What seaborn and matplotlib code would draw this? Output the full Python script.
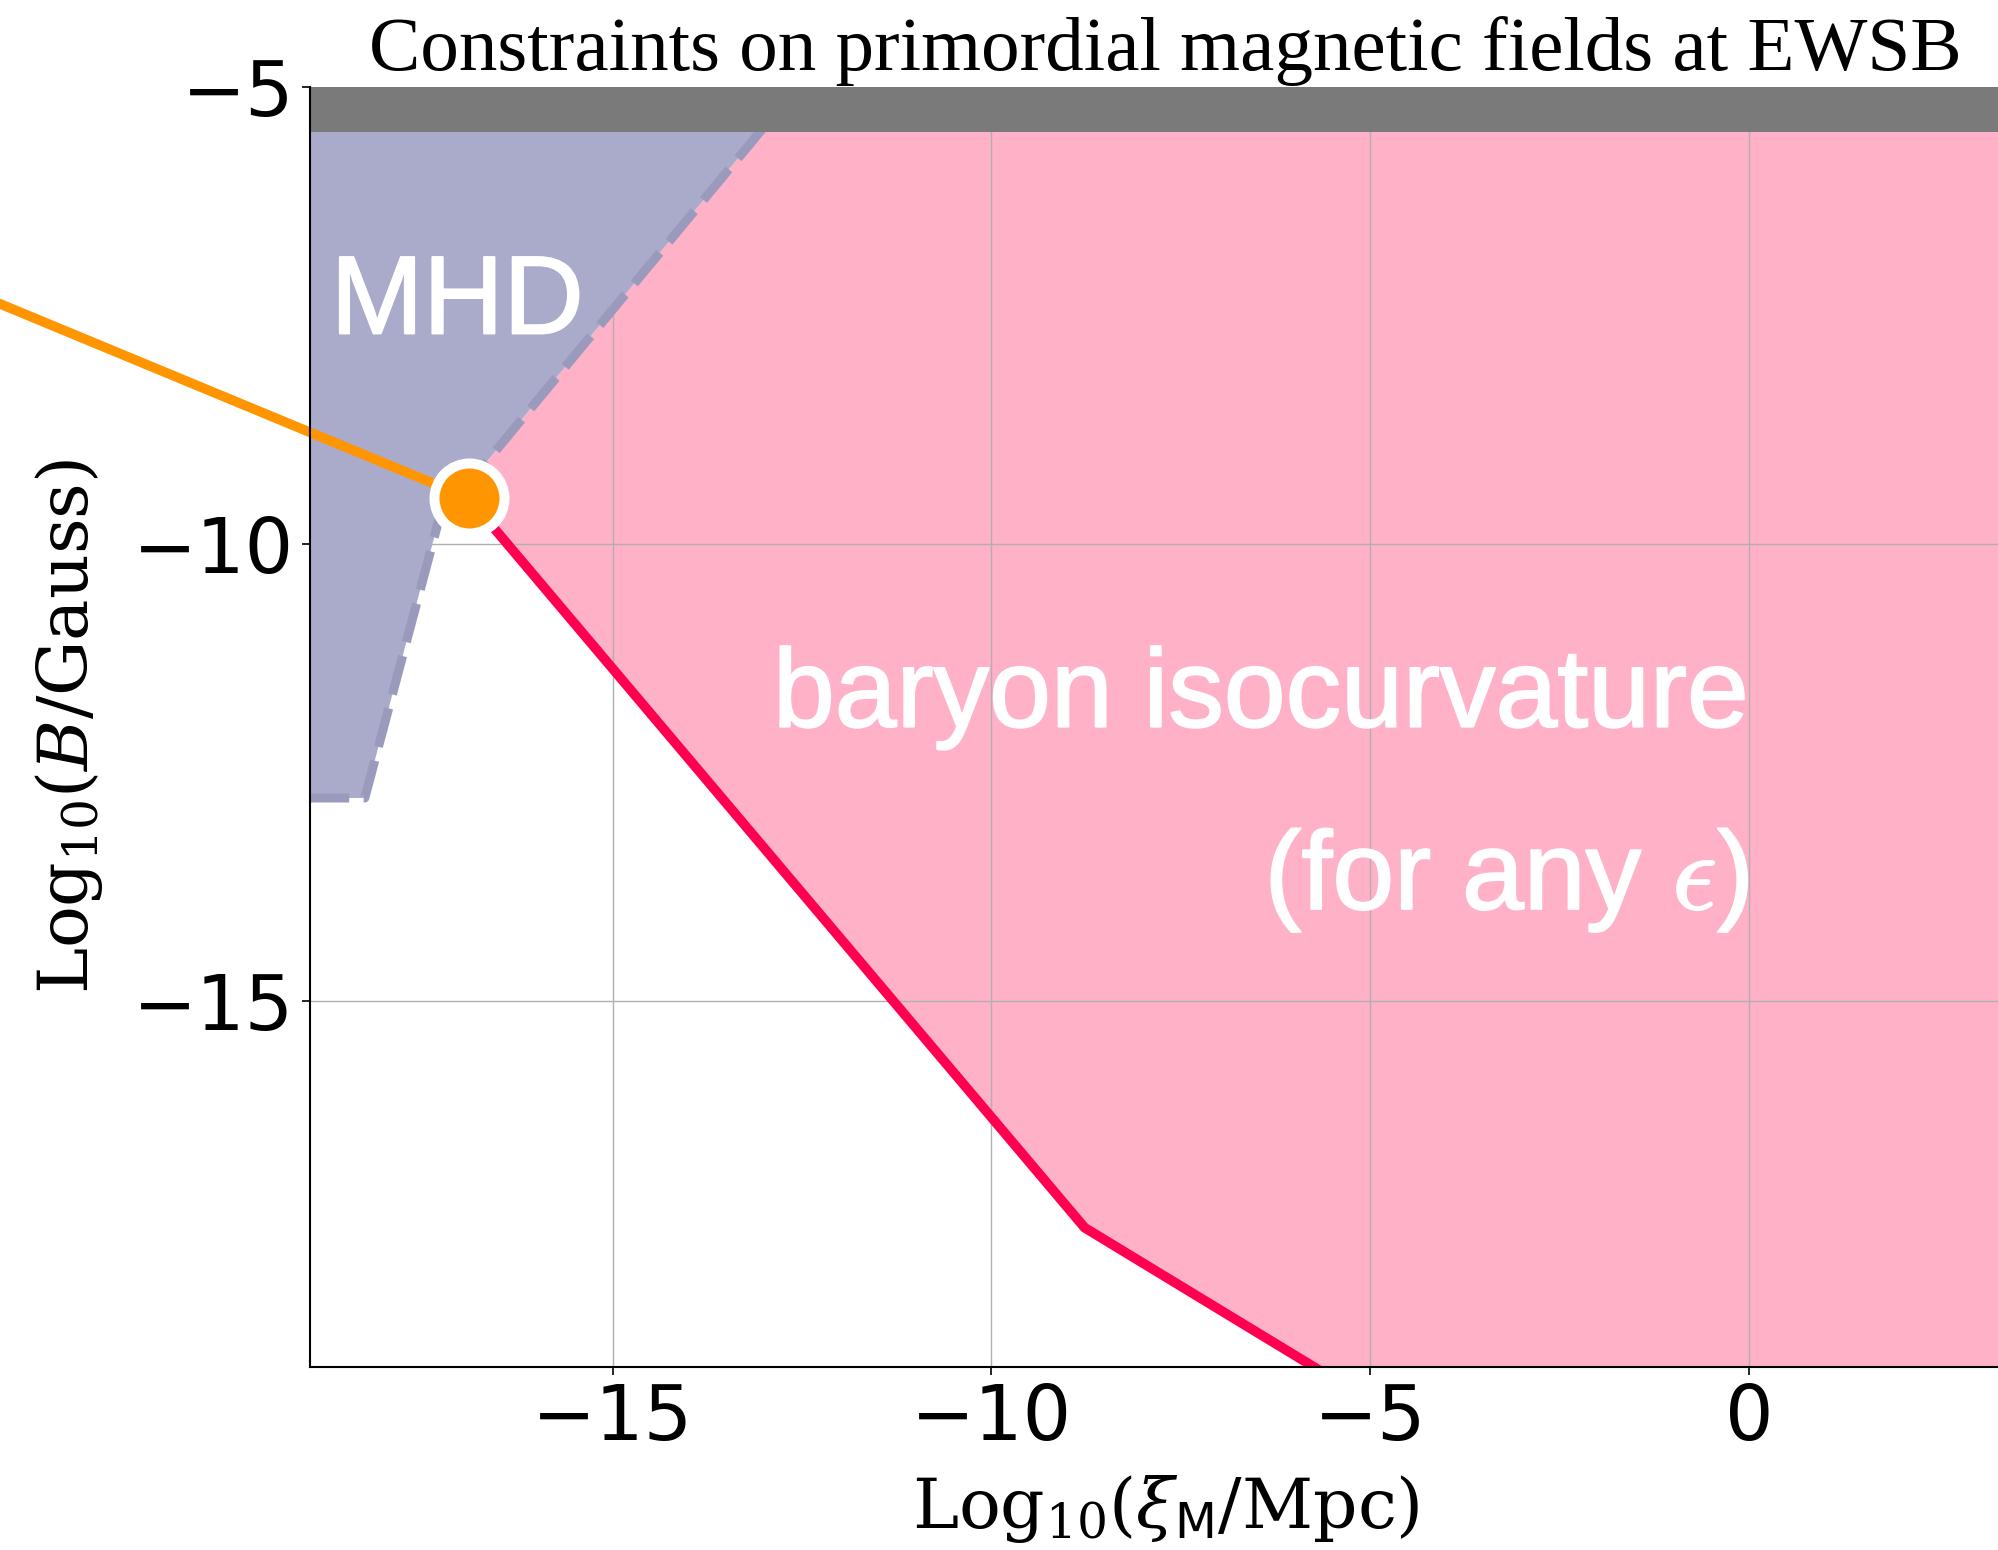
import numpy as np
import pandas as pd
import matplotlib
matplotlib.use("Agg")
import matplotlib.pyplot as plt
import matplotlib.patheffects as pe
import seaborn as sns

# ---------------- data ----------------
# isocurvature (red) bound: Log10(xi_M/Mpc), Log10(B/Gauss)
iso_x = [-16.9, -8.77, -5.75, -2.8]
iso_y = [-9.5, -17.48, -19.0, -20.5]
# MHD boundary (dashed)
mhd_x = [-19.0, -18.27, -17.29, -12.56]
mhd_y = [-12.78, -12.78, -9.73, -5.0]
# excluded top band
band_y = [-5.5, -5.0]
# EWSB point and connector
pt_x = [-16.9]
pt_y = [-9.5]
conn_x = [-24.5, -16.9]
conn_y = [-6.89, -9.5]

xticks = [-15, -10, -5, 0]
yticks = [-15, -10, -5]
xlim = (-19, 3.6)
ylim = (-19, -5)

C_PINK = "#feb1c7"
C_PURPLE = "#aaaacb"
C_DASH = "#9a9abd"
C_RED = "#ff0050"
C_ORANGE = "#ff9500"
C_BAND = "#7a7a7a"

sns.set_style("ticks")
plt.rcParams["font.family"] = ["DejaVu Sans"]
plt.rcParams["axes.edgecolor"] = "black"
plt.rcParams["xtick.color"] = "black"
plt.rcParams["ytick.color"] = "black"
plt.rcParams["text.color"] = "black"
plt.rcParams["axes.labelcolor"] = "black"

W, H = 1998, 1550
fig = plt.figure(figsize=(W / 100, H / 100), dpi=100)
ax_left, ax_right_px = 309.5, 2022
ax_top, ax_bot = 86.6, 1366.7
ax = fig.add_axes([ax_left / W, 1 - ax_bot / H, (ax_right_px - ax_left) / W, (ax_bot - ax_top) / H])

ax.set_xlim(*xlim)
ax.set_ylim(*ylim)

# pink region (isocurvature)
pink_x = iso_x + [10, 10] + mhd_x[::-1][:2]
pink_y = iso_y + [iso_y[-1], ylim[1]] + [ylim[1], mhd_y[2]]
ax.fill(pink_x, pink_y, color=C_PINK, lw=0, zorder=0.2)

# purple MHD region
pur_x = [xlim[0]] + mhd_x[1:] + [xlim[0]]
pur_y = [mhd_y[0]] + mhd_y[1:] + [ylim[1]]
ax.fill(pur_x, pur_y, color=C_PURPLE, lw=0, zorder=1)

ax.set_axisbelow(True)
ax.grid(True, color="#b0b0b0", lw=1.0)

df_mhd = pd.DataFrame({"x": mhd_x, "y": mhd_y})
sns.lineplot(data=df_mhd, x="x", y="y", sort=False, estimator=None, ax=ax,
             color=C_DASH, lw=6.5, zorder=2)
ax.lines[-1].set_linestyle((0, (4.4, 1.6)))
ax.lines[-1].set_dash_capstyle("butt")

df_iso = pd.DataFrame({"x": iso_x, "y": iso_y})
sns.lineplot(data=df_iso, x="x", y="y", sort=False, estimator=None, ax=ax,
             color=C_RED, lw=7, zorder=3)

df_conn = pd.DataFrame({"x": conn_x, "y": conn_y})
sns.lineplot(data=df_conn, x="x", y="y", sort=False, estimator=None, ax=ax,
             color=C_ORANGE, lw=7, zorder=4, clip_on=False)

sns.scatterplot(x=pt_x, y=pt_y, s=2540, color=C_ORANGE, edgecolor="white",
                linewidth=7.2, zorder=6, ax=ax, clip_on=False)

ax.axhspan(band_y[0], band_y[1], color=C_BAND, lw=0, zorder=5)

# labels inside
fx = [pe.withStroke(linewidth=1.4, foreground="white")]
ax.text(-18.72, -7.7, "MHD", color="white", fontsize=80, family="Liberation Sans",
        ha="left", va="baseline", zorder=7, path_effects=fx)
ax.text(0, -12, "baryon isocurvature", color="white", fontsize=80, family="Liberation Sans",
        ha="right", va="baseline", zorder=1.2, path_effects=fx)
ax.text(0, -14, r"(for any $\epsilon$)", color="white", fontsize=80, family="Liberation Sans",
        ha="right", va="baseline", zorder=1.2, math_fontfamily="cm", path_effects=fx)

ax.set_xticks(xticks)
ax.set_yticks(yticks)
ax.set_xticklabels([f"\u2212{abs(v)}" if v < 0 else f"{v}" for v in xticks])
ax.set_yticklabels([f"\u2212{abs(v)}" if v < 0 else f"{v}" for v in yticks])
ax.tick_params(axis="both", labelsize=55, length=6, width=1.2, pad=5, direction="out")

for s in ["top", "right"]:
    ax.spines[s].set_visible(False)
for s in ["left", "bottom"]:
    ax.spines[s].set_linewidth(1.5)
    ax.spines[s].set_zorder(8)

ax.set_xlabel(r"Log$_{10}$($\xi_{\mathsf{M}}$/Mpc)", fontsize=50, family="DejaVu Serif",
              math_fontfamily="dejavuserif", labelpad=12)
ax.set_ylabel(r"Log$_{10}$($B$/Gauss)", fontsize=50, family="DejaVu Serif",
              math_fontfamily="dejavuserif", labelpad=20)
ax.set_title("Constraints on primordial magnetic fields at EWSB", fontsize=55.5,
             family="Liberation Serif", pad=12)

fig.savefig("out.png", dpi=100)
